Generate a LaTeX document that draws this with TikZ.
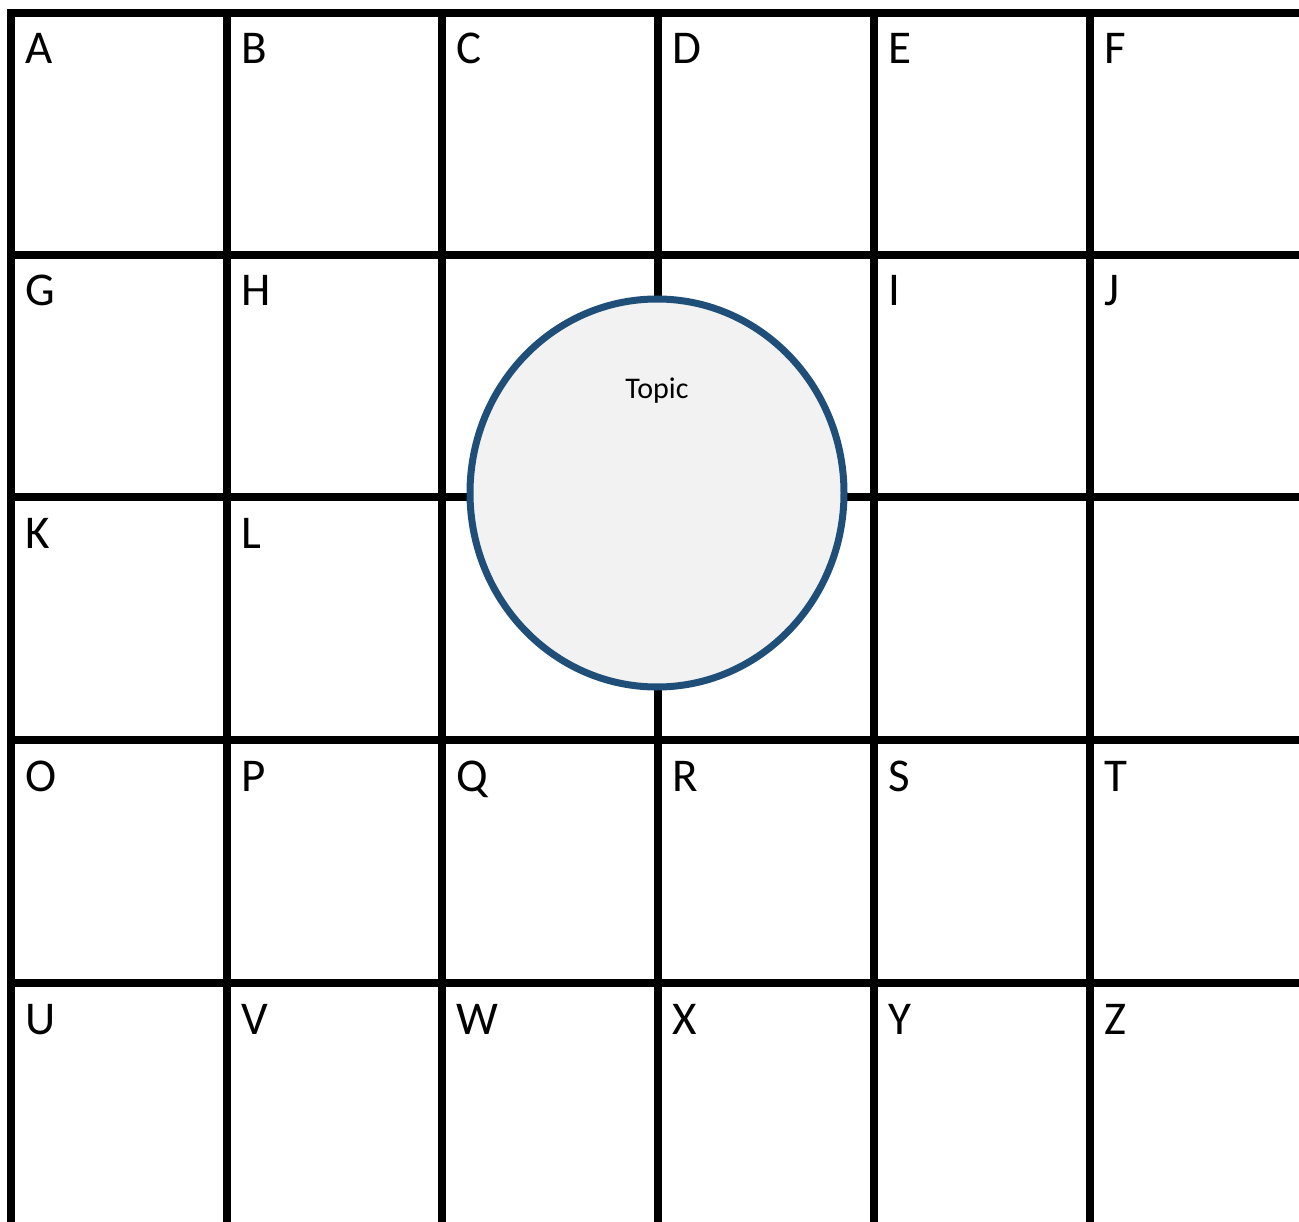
\documentclass[tikz,border=0pt]{standalone}
\usepackage{fontspec}
\setmainfont{Carlito}
\usetikzlibrary{shapes.geometric}
\definecolor{topicblue}{HTML}{1F4E79}
\definecolor{topicfill}{HTML}{F2F2F2}
\begin{document}
\begin{tikzpicture}[x=1pt,y=-1pt,
  gridline/.style={line width=8pt,draw=black},
  letter/.style={anchor=base west,inner sep=0pt,font=\fontsize{47}{50}\selectfont},
  topicnode/.style={ellipse,draw=topicblue,line width=7pt,fill=topicfill,minimum width=374pt,minimum height=388pt,inner sep=0pt}]
\useasboundingbox (0,0) rectangle (1299,1222);
% grid
\draw[gridline,line join=miter] (11,1222) -- (11,13) -- (1299,13);
\foreach \x in {227,442,658,874,1090}
  \draw[gridline] (\x,13) -- (\x,1222);
\foreach \y in {255,497,740,983}
  \draw[gridline] (7,\y) -- (1299,\y);
% letters
\foreach \t/\x/\y/\n in {A/11/13/a,B/227/13/b,C/442/13/c,D/658/13/d,E/874/13/e,F/1090/13/f,
  G/11/255/g,H/227/255/h,I/874/255/i,J/1090/255/j,
  K/11/497/k,L/227/497/l,
  O/11/740/o,P/227/740/p,Q/442/740/q,R/658/740/r,S/874/740/s,T/1090/740/t,
  U/11/983/u,V/227/983/v,W/442/983/w,X/658/983/x,Y/874/983/y,Z/1090/983/z}
  \node[letter] (l\n) at (\x+14,\y+51) {\t};
% topic circle
\node[topicnode] (topic) at (657,493) {};
\node[inner sep=0pt,font=\fontsize{30}{33}\selectfont] (topiclabel) at (657,391) {Topic};
\end{tikzpicture}
\end{document}
